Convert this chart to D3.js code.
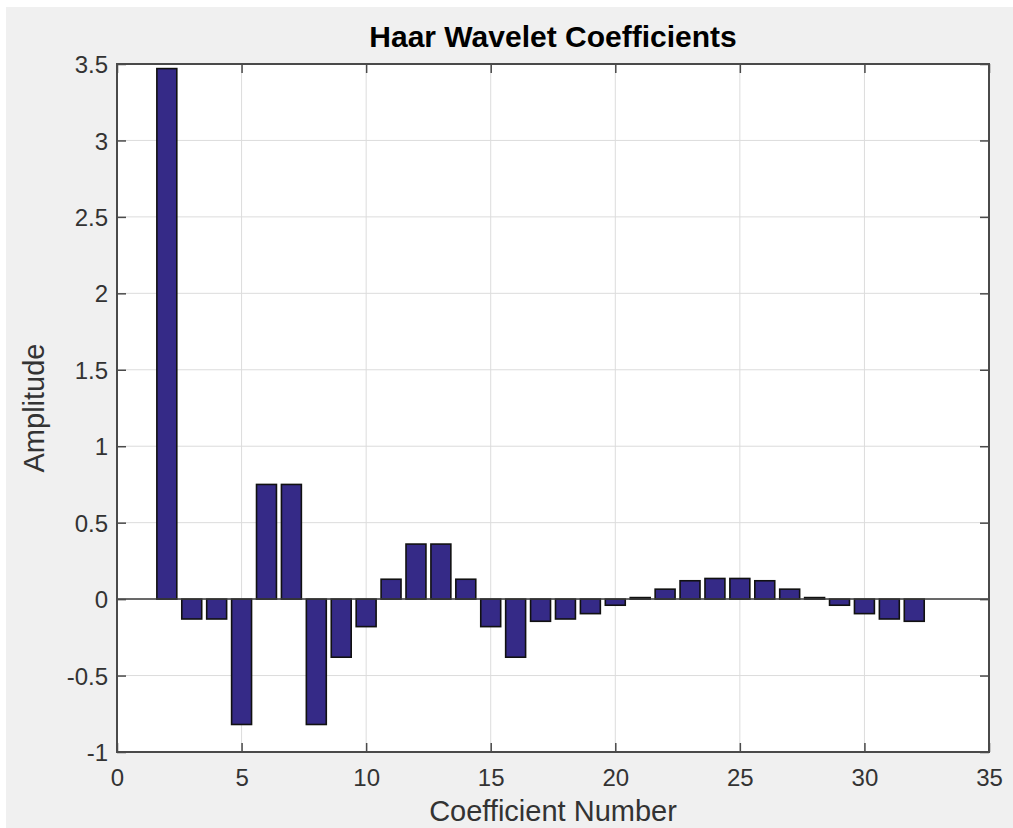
<!DOCTYPE html>
<html>
<head>
<meta charset="utf-8">
<script src="https://cdn.jsdelivr.net/npm/d3@7"></script>
<style>
  html, body { margin: 0; padding: 0; background: #ffffff; }
  svg { display: block; }
  text { font-family: "Liberation Sans", Arial, Helvetica, sans-serif; }
</style>
</head>
<body>
<svg id="chart" width="1013" height="828"></svg>
<script>
// ---- Data ----
const coefficientNumbers = d3.range(1, 33);
const amplitudes = [
  0, 3.47, -0.13, -0.13, -0.82, 0.75, 0.75, -0.82,
  -0.38, -0.18, 0.13, 0.36, 0.36, 0.13, -0.18, -0.38,
  -0.145, -0.13, -0.095, -0.04, 0.01, 0.065, 0.12, 0.135,
  0.135, 0.12, 0.065, 0.01, -0.04, -0.095, -0.13, -0.145
];
const xTicks = [0, 5, 10, 15, 20, 25, 30, 35];
const yTicks = [-1, -0.5, 0, 0.5, 1, 1.5, 2, 2.5, 3, 3.5];
const titleText = "Haar Wavelet Coefficients";
const xLabelText = "Coefficient Number";
const yLabelText = "Amplitude";

(function () {
// ---- Layout ----
const W = 1013, H = 828;
const pL = 117, pR = 989, pT = 64, pB = 752;
const barWidthUnits = 0.8;
const tickLen = 9;

const svg = d3.select("#chart");

svg.append("rect").attr("x", 6).attr("y", 7)
  .attr("width", W - 6).attr("height", H - 7).attr("fill", "#f0f0f0");

const x = d3.scaleLinear().domain([0, 35]).range([pL, pR]);
const y = d3.scaleLinear().domain([-1, 3.5]).range([pB, pT]);

// plot background
svg.append("rect").attr("x", pL).attr("y", pT)
  .attr("width", pR - pL).attr("height", pB - pT).attr("fill", "#ffffff");

// grid
const grid = svg.append("g");
grid.selectAll("line.gx").data(xTicks.slice(1, -1)).join("line")
  .attr("x1", d => x(d)).attr("x2", d => x(d))
  .attr("y1", pT).attr("y2", pB)
  .attr("stroke", "#dcdcdc").attr("stroke-width", 1);
grid.selectAll("line.gy").data(yTicks.slice(1, -1)).join("line")
  .attr("y1", d => y(d)).attr("y2", d => y(d))
  .attr("x1", pL).attr("x2", pR)
  .attr("stroke", "#dcdcdc").attr("stroke-width", 1);

// bars
const data = coefficientNumbers.map((n, i) => ({ n, v: amplitudes[i] }));
const bw = x(barWidthUnits) - x(0);
svg.append("g").selectAll("rect").data(data).join("rect")
  .attr("x", d => x(d.n) - bw / 2)
  .attr("width", bw)
  .attr("y", d => Math.min(y(d.v), y(0)))
  .attr("height", d => Math.abs(y(d.v) - y(0)))
  .attr("fill", "#352a87")
  .attr("stroke", "#111111")
  .attr("stroke-width", 1.6);

// baseline
svg.append("line")
  .attr("x1", pL).attr("x2", pR)
  .attr("y1", y(0)).attr("y2", y(0))
  .attr("stroke", "#3c3c3c").attr("stroke-width", 1.5);

// axes with inward ticks on all sides
const axisColor = "#4a4a4a";
const tickFont = 24;
const fmt = d => String(d);

const xAxis = svg.append("g").attr("transform", `translate(0,${pB})`)
  .call(d3.axisBottom(x).tickValues(xTicks).tickSize(-tickLen).tickPadding(17).tickSizeOuter(0).tickFormat(fmt));
const xAxisTop = svg.append("g").attr("transform", `translate(0,${pT})`)
  .call(d3.axisTop(x).tickValues(xTicks).tickSize(-tickLen).tickFormat("").tickSizeOuter(0));
const yAxis = svg.append("g").attr("transform", `translate(${pL},0)`)
  .call(d3.axisLeft(y).tickValues(yTicks).tickSize(-tickLen).tickPadding(9).tickSizeOuter(0).tickFormat(fmt));
const yAxisRight = svg.append("g").attr("transform", `translate(${pR},0)`)
  .call(d3.axisRight(y).tickValues(yTicks).tickSize(-tickLen).tickFormat("").tickSizeOuter(0));

[xAxis, xAxisTop, yAxis, yAxisRight].forEach(g => {
  g.select(".domain").remove();
  g.selectAll(".tick line").attr("stroke", axisColor).attr("stroke-width", 1.5);
  g.selectAll(".tick text").attr("fill", "#333333").attr("font-size", tickFont)
    .attr("font-family", "'Liberation Sans', Arial, sans-serif");
});
xAxis.selectAll(".tick text").attr("dy", "0.71em");
yAxis.selectAll(".tick text").attr("dy", "0.36em");

// box
svg.append("rect").attr("x", pL).attr("y", pT)
  .attr("width", pR - pL).attr("height", pB - pT)
  .attr("fill", "none").attr("stroke", axisColor).attr("stroke-width", 2);

// title & labels
svg.append("text").attr("x", (pL + pR) / 2).attr("y", 47)
  .attr("text-anchor", "middle").attr("font-size", 30).attr("font-weight", "bold")
  .attr("fill", "#000").text(titleText);
svg.append("text").attr("x", (pL + pR) / 2).attr("y", 821)
  .attr("text-anchor", "middle").attr("font-size", 29)
  .attr("fill", "#333333").text(xLabelText);
svg.append("text")
  .attr("transform", `translate(44,${(pT + pB) / 2}) rotate(-90)`)
  .attr("text-anchor", "middle").attr("font-size", 29)
  .attr("fill", "#333333").text(yLabelText);
})();
</script>
</body>
</html>
